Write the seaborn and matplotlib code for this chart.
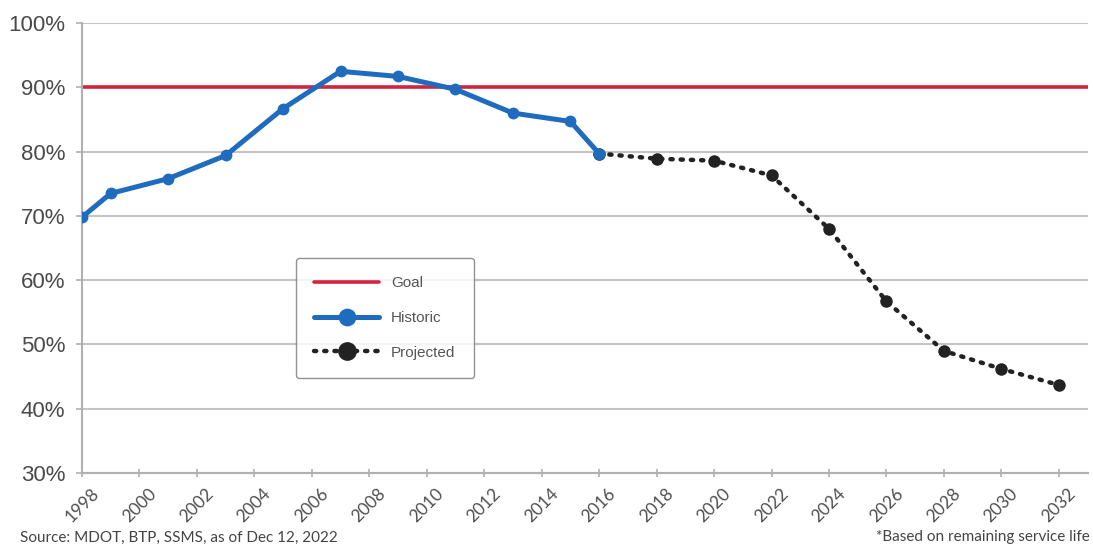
import matplotlib
matplotlib.use("Agg")
import matplotlib.pyplot as plt
import seaborn as sns
import pandas as pd
from matplotlib.ticker import FuncFormatter

# ---- data ----
hist_years = [1998, 1999, 2001, 2003, 2005, 2007, 2009, 2011, 2013, 2015, 2016]
hist_vals = [69.8, 73.5, 75.8, 79.4, 86.7, 92.5, 91.7, 89.7, 86.0, 84.7, 79.7]
proj_years = [2016, 2018, 2020, 2022, 2024, 2026, 2028, 2030, 2032]
proj_vals = [79.7, 78.9, 78.6, 76.3, 68.0, 56.7, 49.0, 46.2, 43.7]
goal_value = 90
x_ticks = list(range(1998, 2033, 2))
y_ticks = [30, 40, 50, 60, 70, 80, 90, 100]
series_labels = ["Goal", "Historic", "Projected"]
source_text = "Source: MDOT, BTP, SSMS, as of Dec 12, 2022"
note_text = "*Based on remaining service life"

sns.set_style("white")
plt.rcParams["font.family"] = ["Liberation Sans", "DejaVu Sans"]

fig = plt.figure(figsize=(10.93, 5.5), dpi=100)
ax = fig.add_axes([0.075, 0.14, 0.92, 0.818])

hist_df = pd.DataFrame({"year": hist_years, "value": hist_vals})
proj_df = pd.DataFrame({"year": proj_years, "value": proj_vals})

ax.axhline(goal_value, color="#d2243f", lw=2.6, zorder=2, label=series_labels[0])
sns.lineplot(data=proj_df, x="year", y="value", ax=ax, color="#222222", lw=3.2,
             linestyle=(0, (0.5, 1.8)), marker="o", markersize=9, markeredgewidth=0,
             dash_capstyle="round", zorder=3, label=series_labels[2])
sns.lineplot(data=hist_df, x="year", y="value", ax=ax, color="#1f6cbf", lw=3.6,
             marker="o", markersize=8.5, markeredgewidth=0, zorder=4, label=series_labels[1])

ax.set_xlim(1998, 2033)
ax.set_ylim(30, 100)
ax.set_xticks(x_ticks)
ax.set_yticks(y_ticks)
ax.yaxis.set_major_formatter(FuncFormatter(lambda v, p: f"{int(v)}%"))
ax.set_xlabel("")
ax.set_ylabel("")

ax.grid(axis="y", color="#c4c4c4", lw=1.5)
ax.grid(axis="x", visible=False)
for s in ["top", "right"]:
    ax.spines[s].set_visible(False)
for s in ["left", "bottom"]:
    ax.spines[s].set_color("#b0b0b0")
    ax.spines[s].set_linewidth(1.5)

ax.tick_params(axis="y", labelsize=16, labelcolor="#4a4a4a", length=4, width=1.2,
               color="#b0b0b0", direction="out", left=True, pad=8)
ax.tick_params(axis="x", labelsize=12.5, labelcolor="#4f4f4f", length=6, width=1.2,
               color="#b0b0b0", direction="inout", bottom=True, pad=6)
for lbl in ax.get_xticklabels():
    lbl.set_rotation(45)
    lbl.set_ha("center")
    lbl.set_va("top")
    lbl.set_family(["Lato", "DejaVu Sans"])

handles, labels = ax.get_legend_handles_labels()
order = [labels.index(l) for l in series_labels]
leg = ax.legend([handles[i] for i in order], [labels[i] for i in order],
                loc="upper left", bbox_to_anchor=(0.213, 0.478), fontsize=11,
                frameon=True, fancybox=True, edgecolor="#777777", labelspacing=1.35,
                handlelength=4.2, handletextpad=0.8, borderpad=1.2, borderaxespad=0,
                markerscale=1.5)
leg.get_frame().set_linewidth(1.0)
for t in leg.get_texts():
    t.set_color("#555555")

fig.text(0.018, 0.01, source_text, fontsize=11, color="#444444",
         family=["Lato", "DejaVu Sans"], ha="left", va="bottom")
fig.text(0.997, 0.01, note_text, fontsize=11, color="#444444",
         family=["Lato", "DejaVu Sans"], ha="right", va="bottom")

fig.savefig("out.png", dpi=100)
